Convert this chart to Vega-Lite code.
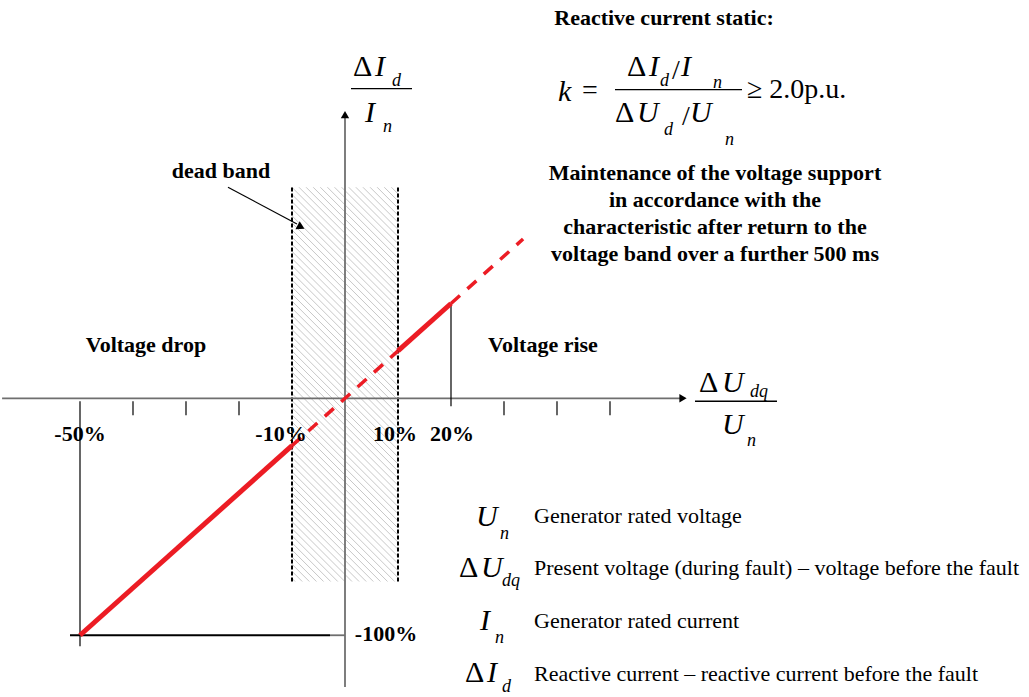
{
  "$schema": "https://vega.github.io/schema/vega-lite/v6.json",
  "width": 1029,
  "height": 697,
  "padding": 0,
  "autosize": {"type": "fit", "contains": "padding"},
  "background": "white",
  "config": {"view": {"stroke": null}},
  "datasets": {
    "hatch": [
      {"u": -10, "u2": 10, "i": 134}, {"u": -10, "u2": 10, "i": 131}, {"u": -10, "u2": 10, "i": 128}, {"u": -10, "u2": 10, "i": 125},
      {"u": -10, "u2": 10, "i": 122}, {"u": -10, "u2": 10, "i": 119}, {"u": -10, "u2": 10, "i": 116}, {"u": -10, "u2": 10, "i": 113},
      {"u": -10, "u2": 10, "i": 110}, {"u": -10, "u2": 10, "i": 107}, {"u": -10, "u2": 10, "i": 104}, {"u": -10, "u2": 10, "i": 101},
      {"u": -10, "u2": 10, "i": 98}, {"u": -10, "u2": 10, "i": 95}, {"u": -10, "u2": 10, "i": 92}, {"u": -10, "u2": 10, "i": 89},
      {"u": -10, "u2": 10, "i": 86}, {"u": -10, "u2": 10, "i": 83}, {"u": -10, "u2": 10, "i": 80}, {"u": -10, "u2": 10, "i": 77},
      {"u": -10, "u2": 10, "i": 74}, {"u": -10, "u2": 10, "i": 71}, {"u": -10, "u2": 10, "i": 68}, {"u": -10, "u2": 10, "i": 65},
      {"u": -10, "u2": 10, "i": 62}, {"u": -10, "u2": 10, "i": 59}, {"u": -10, "u2": 10, "i": 56}, {"u": -10, "u2": 10, "i": 53},
      {"u": -10, "u2": 10, "i": 50}, {"u": -10, "u2": 10, "i": 47}, {"u": -10, "u2": 10, "i": 44}, {"u": -10, "u2": 10, "i": 41},
      {"u": -10, "u2": 10, "i": 38}, {"u": -10, "u2": 10, "i": 35}, {"u": -10, "u2": 10, "i": 32}, {"u": -10, "u2": 10, "i": 29},
      {"u": -10, "u2": 10, "i": 26}, {"u": -10, "u2": 10, "i": 23}, {"u": -10, "u2": 10, "i": 20}, {"u": -10, "u2": 10, "i": 17},
      {"u": -10, "u2": 10, "i": 14}, {"u": -10, "u2": 10, "i": 11}, {"u": -10, "u2": 10, "i": 8}, {"u": -10, "u2": 10, "i": 5},
      {"u": -10, "u2": 10, "i": 2}, {"u": -10, "u2": 10, "i": -1}, {"u": -10, "u2": 10, "i": -4}, {"u": -10, "u2": 10, "i": -7},
      {"u": -10, "u2": 10, "i": -10}, {"u": -10, "u2": 10, "i": -13}, {"u": -10, "u2": 10, "i": -16}, {"u": -10, "u2": 10, "i": -19},
      {"u": -10, "u2": 10, "i": -22}, {"u": -10, "u2": 10, "i": -25}, {"u": -10, "u2": 10, "i": -28}, {"u": -10, "u2": 10, "i": -31},
      {"u": -10, "u2": 10, "i": -34}, {"u": -10, "u2": 10, "i": -37}, {"u": -10, "u2": 10, "i": -40}, {"u": -10, "u2": 10, "i": -43},
      {"u": -10, "u2": 10, "i": -46}, {"u": -10, "u2": 10, "i": -49}, {"u": -10, "u2": 10, "i": -52}, {"u": -10, "u2": 10, "i": -55},
      {"u": -10, "u2": 10, "i": -58}, {"u": -10, "u2": 10, "i": -61}, {"u": -10, "u2": 10, "i": -64}, {"u": -10, "u2": 10, "i": -67},
      {"u": -10, "u2": 10, "i": -70}, {"u": -10, "u2": 10, "i": -73}, {"u": -10, "u2": 10, "i": -76}, {"u": -10, "u2": 10, "i": -79}
    ],
    "bandMask": [
      {"u": -10.2, "u2": 10.2, "i": 89.1, "i2": 168},
      {"u": -10.2, "u2": 10.2, "i": -77.3, "i2": -126}
    ],
    "bandEdges": [
      {"u": -10, "u2": -10, "i": -77.3, "i2": 89.1},
      {"u": 10, "u2": 10, "i": -77.3, "i2": 89.1}
    ],
    "axes": [
      {"u": -64.7, "u2": 63.4, "i": 0, "i2": 0},
      {"u": 0, "u2": 0, "i": -121.85, "i2": 119},
      {"u": -2.83, "u2": 0, "i": -100, "i2": -100}
    ],
    "guides": [
      {"u": -40, "u2": -40, "i": -1.26, "i2": -7.14},
      {"u": -30, "u2": -30, "i": -1.26, "i2": -7.14},
      {"u": -20, "u2": -20, "i": -1.26, "i2": -7.14},
      {"u": 30, "u2": 30, "i": -1.26, "i2": -7.14},
      {"u": 40, "u2": 40, "i": -1.26, "i2": -7.14},
      {"u": 50, "u2": 50, "i": -1.26, "i2": -7.14},
      {"u": -50, "u2": -50, "i": -1.26, "i2": -104.62},
      {"u": 20, "u2": 20, "i": 40, "i2": -3.36},
      {"u": -22.075, "u2": -9.057, "i": 89.076, "i2": 73.529}
    ],
    "floor": [
      {"u": -51.887, "u2": -2.83, "i": -100, "i2": -100}
    ],
    "fractionBars": [
      {"u": 1.132, "u2": 12.642, "i": 130.672, "i2": 130.672},
      {"u": 66.038, "u2": 81.509, "i": -1.261, "i2": -1.261},
      {"u": 50.943, "u2": 74.906, "i": 130.252, "i2": 130.252}
    ],
    "solid": [
      {"seg": "drop", "u": -50, "i": -100},
      {"seg": "drop", "u": -10, "i": -20},
      {"seg": "rise", "u": 10, "i": 20},
      {"seg": "rise", "u": 20, "i": 40}
    ],
    "dashed": [
      {"seg": "band", "u": -10, "i": -20},
      {"seg": "band", "u": 10, "i": 20},
      {"seg": "hold", "u": 20, "i": 40},
      {"seg": "hold", "u": 33.6, "i": 67.2}
    ],
    "boldLabels": [
      {"t": "Reactive current static:", "u": 60.189, "i": 157.563},
      {"t": "Maintenance of the voltage support", "u": 69.811, "i": 92.017},
      {"t": "in accordance with the", "u": 69.811, "i": 80.672},
      {"t": "characteristic after return to the", "u": 69.811, "i": 69.328},
      {"t": "voltage band over a further 500 ms", "u": 69.811, "i": 57.983},
      {"t": "dead band", "u": -23.396, "i": 92.857},
      {"t": "Voltage drop", "u": -37.547, "i": 19.328},
      {"t": "Voltage rise", "u": 37.358, "i": 19.328},
      {"t": "-50%", "u": -50, "i": -18.067},
      {"t": "-10%", "u": -12.075, "i": -18.067},
      {"t": "10%", "u": 9.434, "i": -18.067},
      {"t": "20%", "u": 20.189, "i": -18.067},
      {"t": "-100%", "u": 7.736, "i": -102.521}
    ],
    "legendText": [
      {"t": "Generator rated voltage", "u": 35.66, "i": -52.521},
      {"t": "Present voltage (during fault) – voltage before the fault", "u": 35.66, "i": -74.37},
      {"t": "Generator rated current", "u": 35.66, "i": -97.059},
      {"t": "Reactive current – reactive current before the fault", "u": 35.66, "i": -119.328}
    ],
    "mathItalic": [
      {"t": "I", "u": 5.66, "i": 136.134},
      {"t": "I", "u": 3.774, "i": 116.387},
      {"t": "U", "u": 71.132, "i": 2.521},
      {"t": "U", "u": 71.132, "i": -15.126},
      {"t": "k", "u": 40.189, "i": 125.63},
      {"t": "I", "u": 57.358, "i": 136.134},
      {"t": "I", "u": 63.396, "i": 136.134},
      {"t": "U", "u": 55.094, "i": 116.387},
      {"t": "U", "u": 65.094, "i": 116.387},
      {"t": "U", "u": 24.717, "i": -53.782},
      {"t": "U", "u": 25.66, "i": -75.21},
      {"t": "I", "u": 25.472, "i": -97.899},
      {"t": "I", "u": 26.792, "i": -119.748}
    ],
    "deltas": [
      {"t": "Δ", "u": 1.509, "i": 136.134},
      {"t": "Δ", "u": 66.792, "i": 2.521},
      {"t": "Δ", "u": 53.208, "i": 136.134},
      {"t": "Δ", "u": 50.943, "i": 116.387},
      {"t": "Δ", "u": 21.509, "i": -75.21},
      {"t": "Δ", "u": 22.642, "i": -119.748}
    ],
    "subscripts": [
      {"t": "d", "u": 8.868, "i": 131.933},
      {"t": "n", "u": 7.17, "i": 112.185},
      {"t": "dq", "u": 76.415, "i": 0.42},
      {"t": "n", "u": 75.849, "i": -20.168},
      {"t": "d", "u": 59.434, "i": 131.933},
      {"t": "n", "u": 69.434, "i": 131.092},
      {"t": "d", "u": 60.189, "i": 110.924},
      {"t": "n", "u": 71.698, "i": 106.723},
      {"t": "n", "u": 29.245, "i": -59.244},
      {"t": "dq", "u": 29.623, "i": -79.412},
      {"t": "n", "u": 28.302, "i": -103.361},
      {"t": "d", "u": 29.623, "i": -123.95}
    ],
    "operators": [
      {"t": "=", "u": 44.717, "i": 126.471},
      {"t": "/", "u": 61.698, "i": 134.874},
      {"t": "/", "u": 63.585, "i": 115.126},
      {"t": "≥ 2.0p.u.", "u": 75.849, "i": 126.891}
    ],
    "arrowUp": [{"u": 0, "i": 119.75}],
    "arrowRight": [{"u": 63.774, "i": 0}],
    "arrowBand": [{"u": -8.302, "i": 72.269}]
  },
  "encoding": {
    "x": {"field": "u", "type": "quantitative", "scale": {"domain": [-65.094, 129.057], "nice": false, "zero": false}, "axis": null},
    "y": {"field": "i", "type": "quantitative", "scale": {"domain": [-125.21, 167.647], "nice": false, "zero": false}, "axis": null}
  },
  "layer": [
    {
      "data": {"name": "hatch"},
      "mark": {"type": "rule", "color": "#c8c8c8", "strokeWidth": 1, "y2Offset": 106},
      "encoding": {"x2": {"field": "u2"}, "y2": {"field": "i"}}
    },
    {
      "data": {"name": "bandMask"},
      "mark": {"type": "rect", "color": "white"},
      "encoding": {"x2": {"field": "u2"}, "y2": {"field": "i2"}}
    },
    {
      "data": {"name": "bandEdges"},
      "mark": {"type": "rule", "color": "black", "strokeWidth": 2, "strokeDash": [4, 2]},
      "encoding": {"x2": {"field": "u2"}, "y2": {"field": "i2"}}
    },
    {
      "data": {"name": "axes"},
      "mark": {"type": "rule", "color": "#6f6f6f", "strokeWidth": 1.8},
      "encoding": {"x2": {"field": "u2"}, "y2": {"field": "i2"}}
    },
    {
      "data": {"name": "guides"},
      "mark": {"type": "rule", "color": "black", "strokeWidth": 1.2},
      "encoding": {"x2": {"field": "u2"}, "y2": {"field": "i2"}}
    },
    {
      "data": {"name": "floor"},
      "mark": {"type": "rule", "color": "black", "strokeWidth": 2},
      "encoding": {"x2": {"field": "u2"}, "y2": {"field": "i2"}}
    },
    {
      "data": {"name": "fractionBars"},
      "mark": {"type": "rule", "color": "black", "strokeWidth": 1.3},
      "encoding": {"x2": {"field": "u2"}, "y2": {"field": "i2"}}
    },
    {
      "data": {"name": "dashed"},
      "mark": {"type": "line", "color": "#ec1c24", "strokeWidth": 3.5, "strokeDash": [12, 10]},
      "encoding": {"detail": {"field": "seg"}, "order": {"field": "u"}}
    },
    {
      "data": {"name": "solid"},
      "mark": {"type": "line", "color": "#ec1c24", "strokeWidth": 5},
      "encoding": {"detail": {"field": "seg"}, "order": {"field": "u"}}
    },
    {
      "data": {"name": "arrowUp"},
      "mark": {"type": "point", "shape": "triangle-up", "filled": true, "color": "black", "opacity": 1, "size": 70}
    },
    {
      "data": {"name": "arrowRight"},
      "mark": {"type": "point", "shape": "triangle-right", "filled": true, "color": "black", "opacity": 1, "size": 70}
    },
    {
      "data": {"name": "arrowBand"},
      "mark": {"type": "point", "shape": "triangle-right", "angle": 28, "filled": true, "color": "black", "opacity": 1, "size": 80}
    },
    {
      "data": {"name": "boldLabels"},
      "mark": {"type": "text", "font": "Liberation Serif", "fontSize": 22, "fontWeight": "bold", "align": "center", "baseline": "alphabetic", "color": "black"},
      "encoding": {"text": {"field": "t"}}
    },
    {
      "data": {"name": "legendText"},
      "mark": {"type": "text", "font": "Liberation Serif", "fontSize": 22, "align": "left", "baseline": "alphabetic", "color": "black"},
      "encoding": {"text": {"field": "t"}}
    },
    {
      "data": {"name": "mathItalic"},
      "mark": {"type": "text", "font": "Liberation Serif", "fontSize": 30, "fontStyle": "italic", "align": "left", "baseline": "alphabetic", "color": "black"},
      "encoding": {"text": {"field": "t"}}
    },
    {
      "data": {"name": "deltas"},
      "mark": {"type": "text", "font": "Liberation Serif", "fontSize": 30, "align": "left", "baseline": "alphabetic", "color": "black"},
      "encoding": {"text": {"field": "t"}}
    },
    {
      "data": {"name": "subscripts"},
      "mark": {"type": "text", "font": "Liberation Serif", "fontSize": 18, "fontStyle": "italic", "align": "left", "baseline": "alphabetic", "color": "black"},
      "encoding": {"text": {"field": "t"}}
    },
    {
      "data": {"name": "operators"},
      "mark": {"type": "text", "font": "Liberation Serif", "fontSize": 28, "align": "left", "baseline": "alphabetic", "color": "black"},
      "encoding": {"text": {"field": "t"}}
    }
  ]
}
